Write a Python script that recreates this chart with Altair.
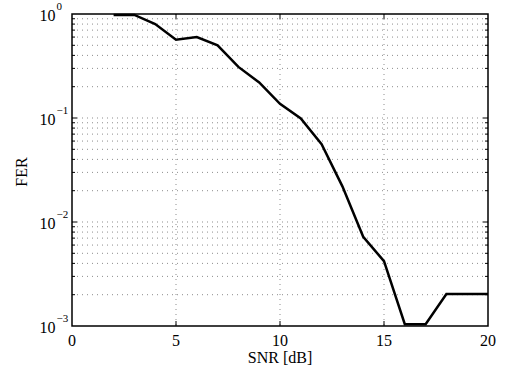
import altair as alt
import pandas as pd

# Frame error rate versus SNR
snr_db = [2, 3, 4, 5, 6, 7, 8, 9, 10, 11, 12, 13, 14, 15, 16, 17, 18, 19, 20]
fer = [0.98, 0.98, 0.80, 0.565, 0.60, 0.50, 0.31, 0.22, 0.137, 0.099,
       0.056, 0.022, 0.0072, 0.0042, 0.00104, 0.00104, 0.00203, 0.00203, 0.00203]

x_ticks = [0, 5, 10, 15, 20]
x_inner = [5, 10, 15]
decades = [1.0, 0.1, 0.01, 0.001]
decade_exp = ["0", "\u22121", "\u22122", "\u22123"]
minor_mult = [2, 3, 4, 5, 6, 7, 8, 9]
x_title = ["SNR [dB]"]
y_title = ["FER"]

W, H = 416, 312
FONT = "Liberation Serif"

xs = alt.Scale(domain=[0, 20], nice=False, zero=False)
ys = alt.Scale(type="log", domain=[0.001, 1], nice=False)

df = pd.DataFrame({"snr": snr_db, "fer": fer})
minor_vals = [m * d for d in decades[1:] for m in minor_mult]
ygrid = pd.DataFrame({"g": minor_vals + decades[1:3]})
ymajor = pd.DataFrame({"g": decades[1:3]})
yminor = pd.DataFrame({"g": minor_vals})
xgrid = pd.DataFrame({"gx": x_inner})
xlab = pd.DataFrame({"gx": x_ticks, "t": [str(v) for v in x_ticks]})
ylab = pd.DataFrame({"v": decades, "e": decade_exp})

X = lambda f: alt.X(f, scale=xs, axis=None)
Y = lambda f: alt.Y(f, scale=ys, axis=None)

dots = dict(color="black", strokeWidth=1, strokeDash=[1, 4], opacity=0.45)

hgrid = alt.Chart(ygrid).mark_rule(**dots).encode(
    y=Y("g:Q"), x=alt.value(0), x2=alt.value(W))
vgrid = alt.Chart(xgrid).mark_rule(**dots).encode(
    x=X("gx:Q"), y=alt.value(0), y2=alt.value(H))

tick = dict(color="black", strokeWidth=1)
xt_bottom = alt.Chart(xgrid).mark_rule(**tick).encode(
    x=X("gx:Q"), y=alt.value(H), y2=alt.value(H - 5))
xt_top = alt.Chart(xgrid).mark_rule(**tick).encode(
    x=X("gx:Q"), y=alt.value(0), y2=alt.value(5))
yt_major_l = alt.Chart(ymajor).mark_rule(**tick).encode(
    y=Y("g:Q"), x=alt.value(0), x2=alt.value(5))
yt_major_r = alt.Chart(ymajor).mark_rule(**tick).encode(
    y=Y("g:Q"), x=alt.value(W), x2=alt.value(W - 5))
yt_minor_l = alt.Chart(yminor).mark_rule(**tick).encode(
    y=Y("g:Q"), x=alt.value(0), x2=alt.value(3))
yt_minor_r = alt.Chart(yminor).mark_rule(**tick).encode(
    y=Y("g:Q"), x=alt.value(W), x2=alt.value(W - 3))

line = alt.Chart(df).mark_line(color="black", strokeWidth=2.5).encode(
    x=X("snr:Q"), y=Y("fer:Q"))

txt = dict(font=FONT, color="black", fontWeight="normal")

# x tick labels
xl = alt.Chart(xlab).mark_text(
    fontSize=16, align="center", baseline="alphabetic", **txt
).encode(x=X("gx:Q"), y=alt.value(H + 20), text="t:N")

# y tick labels: base 10 with a raised exponent
ten = alt.Chart(ylab).mark_text(
    fontSize=16, align="right", baseline="alphabetic", dy=7, **txt
).encode(y=Y("v:Q"), x=alt.value(-16.5), text=alt.value("10"))
expo = alt.Chart(ylab).mark_text(
    fontSize=11, align="left", baseline="alphabetic", dy=-4.5, **txt
).encode(y=Y("v:Q"), x=alt.value(-15.5), text="e:N")

# axis titles (one row each)
xtitle = alt.Chart(pd.DataFrame({"t": x_title})).mark_text(
    fontSize=16, align="center", baseline="alphabetic", **txt
).encode(x=alt.value(W / 2), y=alt.value(H + 37), text="t:N")
ytitle = alt.Chart(pd.DataFrame({"t": y_title})).mark_text(
    fontSize=16, align="center", baseline="alphabetic", angle=270, **txt
).encode(x=alt.value(-45), y=alt.value(H / 2 + 2), text="t:N")

chart = alt.layer(
    hgrid, vgrid, xt_bottom, xt_top, yt_major_l, yt_major_r, yt_minor_l, yt_minor_r,
    line, xl, ten, expo, xtitle, ytitle,
).properties(
    width=W, height=H,
    background="white",
    autosize=alt.AutoSizeParams(type="none"),
    padding={"left": 72, "top": 14, "right": 19, "bottom": 46},
).configure_view(
    stroke="black", strokeWidth=1.5,
)

chart.save("out.html", embed_options={"renderer": "svg", "actions": False})
